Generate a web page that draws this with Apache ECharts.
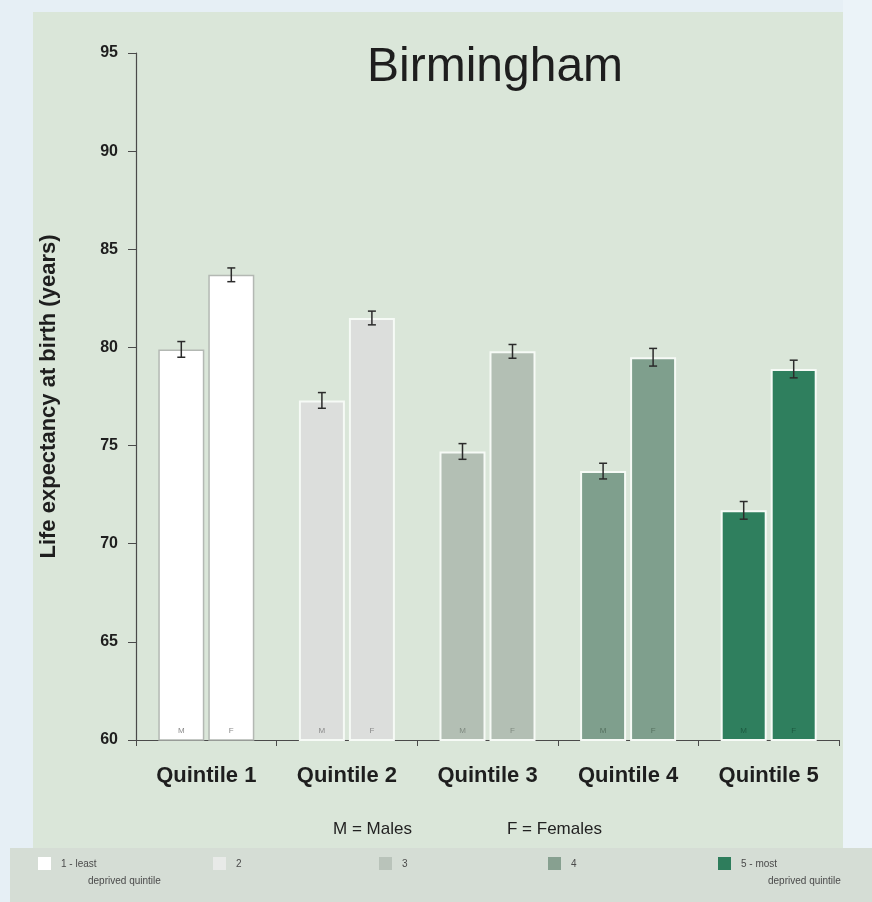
<!DOCTYPE html>
<html>
<head>
<meta charset="utf-8">
<script src="https://cdn.jsdelivr.net/npm/echarts@6/dist/echarts.min.js"></script>
<style>
  html, body { margin: 0; padding: 0; background: #e6eff5; }
  #chart { width: 872px; height: 902px; }
</style>
</head>
<body>
<div id="chart"></div>
<script>
// Life expectancy at birth by deprivation quintile, Birmingham
const categories = ['Quintile 1', 'Quintile 2', 'Quintile 3', 'Quintile 4', 'Quintile 5'];
const males   = [79.9, 77.3, 74.7, 73.7, 71.7];
const females = [83.7, 81.5, 79.8, 79.5, 78.9];
// 95% confidence limits
const malesLow    = [79.5, 76.9, 74.3, 73.3, 71.25];
const malesHigh   = [80.3, 77.7, 75.1, 74.1, 72.15];
const femalesLow  = [83.35, 81.15, 79.45, 79.05, 78.45];
const femalesHigh = [84.05, 81.85, 80.15, 79.95, 79.35];
const yTicks = [60, 65, 70, 75, 80, 85, 90, 95];

const quintileColors = ['#ffffff', '#dcdedc', '#b3bfb4', '#7f9f8d', '#2f7f5e'];
const quintileBorders = ['#b3b8b3', '#f6faf6', '#f6faf6', '#f6faf6', '#f6faf6'];
const quintileLabelColors = ['#8a8a8a', '#8a8a8a', '#7f8a80', '#55705f', '#1d5a40'];
const legendSwatches = ['#ffffff', '#e8eae8', '#b9c3ba', '#87a090', '#2e7d5c'];
const legendLabels = ['1 - least', '2', '3', '4', '5 - most'];
const legendSubLabels = ['deprived quintile', '', '', '', 'deprived quintile'];

const BAR_W = 46;
const BAR_GAP = 4;

const chart = echarts.init(document.getElementById('chart'));

function barData(values, sexLabel) {
  return values.map((v, i) => ({
    value: v,
    itemStyle: { color: quintileColors[i], borderColor: quintileBorders[i], borderWidth: i === 0 ? 1.5 : 2 },
    label: { color: quintileLabelColors[i], formatter: sexLabel }
  }));
}

function errorSeries(low, high, shift) {
  return {
    type: 'custom',
    z: 5,
    silent: true,
    data: low.map((l, i) => [i, l, high[i]]),
    encode: { x: 0, y: [1, 2] },
    renderItem(params, api) {
      const lo = api.coord([api.value(0), api.value(1)]);
      const hi = api.coord([api.value(0), api.value(2)]);
      const x = lo[0] + shift;
      const cap = 4;
      const st = { stroke: '#2b2b2b', lineWidth: 1.5 };
      return {
        type: 'group',
        children: [
          { type: 'line', shape: { x1: x, y1: lo[1], x2: x, y2: hi[1] }, style: st },
          { type: 'line', shape: { x1: x - cap, y1: lo[1], x2: x + cap, y2: lo[1] }, style: st },
          { type: 'line', shape: { x1: x - cap, y1: hi[1], x2: x + cap, y2: hi[1] }, style: st }
        ]
      };
    }
  };
}

const font = '"Liberation Sans", Arial, Helvetica, sans-serif';

// legend strip along the bottom
const legendX = [38, 213, 379, 548, 718];
const legendGraphics = [];
legendSwatches.forEach((c, i) => {
  legendGraphics.push({
    type: 'rect', left: legendX[i], top: 857, shape: { width: 13, height: 13 },
    style: { fill: c }, silent: true
  });
  legendGraphics.push({
    type: 'text', left: legendX[i] + 23, top: 859,
    style: { text: legendLabels[i], font: '10px ' + font, fill: '#4a4a4a' }
  });
  if (legendSubLabels[i]) {
    legendGraphics.push({
      type: 'text', left: legendX[i] + 50, top: 876,
      style: { text: legendSubLabels[i], font: '10px ' + font, fill: '#4a4a4a' }
    });
  }
});

chart.setOption({
  animation: false,
  backgroundColor: '#e6eff5',
  graphic: [
    { type: 'rect', z: -10, left: 843, top: 0, shape: { width: 29, height: 848 }, style: { fill: '#ebf3f8' }, silent: true },
    { type: 'rect', z: -10, left: 33, top: 12, shape: { width: 810, height: 836 }, style: { fill: '#dae6d9' }, silent: true },
    { type: 'rect', z: -10, left: 10, top: 848, shape: { width: 862, height: 54 }, style: { fill: '#d5ddd5' }, silent: true },
    { type: 'text', left: 367, top: 44, style: { text: 'Birmingham', font: '48px ' + font, fill: '#1e1e1e' } },
    { type: 'text', left: 333, top: 821, style: { text: 'M = Males', font: '17px ' + font, fill: '#222' } },
    { type: 'text', left: 507, top: 821, style: { text: 'F = Females', font: '17px ' + font, fill: '#222' } },
    ...legendGraphics
  ],
  grid: { left: 136, right: 33, top: 53, bottom: 162 },
  xAxis: {
    type: 'category',
    data: categories,
    axisLine: { lineStyle: { color: '#4a4a4a', width: 1.2 } },
    axisTick: { show: true, length: 6, lineStyle: { color: '#4a4a4a' } },
    axisLabel: { margin: 25, fontSize: 22, fontWeight: 'bold', fontFamily: font, color: '#1e1e1e' }
  },
  yAxis: {
    type: 'value',
    min: 60, max: 95, interval: 5,
    name: 'Life expectancy at birth (years)',
    nameLocation: 'middle',
    nameGap: 76,
    nameTextStyle: { fontSize: 22, fontWeight: 'bold', fontFamily: font, color: '#1e1e1e' },
    splitLine: { show: false },
    axisLine: { show: true, lineStyle: { color: '#4a4a4a', width: 1.2 } },
    axisTick: { show: true, length: 8, lineStyle: { color: '#4a4a4a' } },
    axisLabel: {
      margin: 18, fontSize: 16, fontWeight: 'bold', fontFamily: font, color: '#1e1e1e',
      formatter: v => (yTicks.includes(v) ? String(v) : '')
    }
  },
  series: [
    {
      name: 'Males', type: 'bar', barWidth: BAR_W, barGap: (BAR_GAP / BAR_W * 100) + '%',
      data: barData(males, 'M'),
      label: { show: true, position: 'insideBottom', distance: 6, fontSize: 8, fontFamily: font }
    },
    {
      name: 'Females', type: 'bar', barWidth: BAR_W,
      data: barData(females, 'F'),
      label: { show: true, position: 'insideBottom', distance: 6, fontSize: 8, fontFamily: font }
    },
    errorSeries(malesLow, malesHigh, -(BAR_W + BAR_GAP) / 2),
    errorSeries(femalesLow, femalesHigh, (BAR_W + BAR_GAP) / 2)
  ]
});
</script>
</body>
</html>
